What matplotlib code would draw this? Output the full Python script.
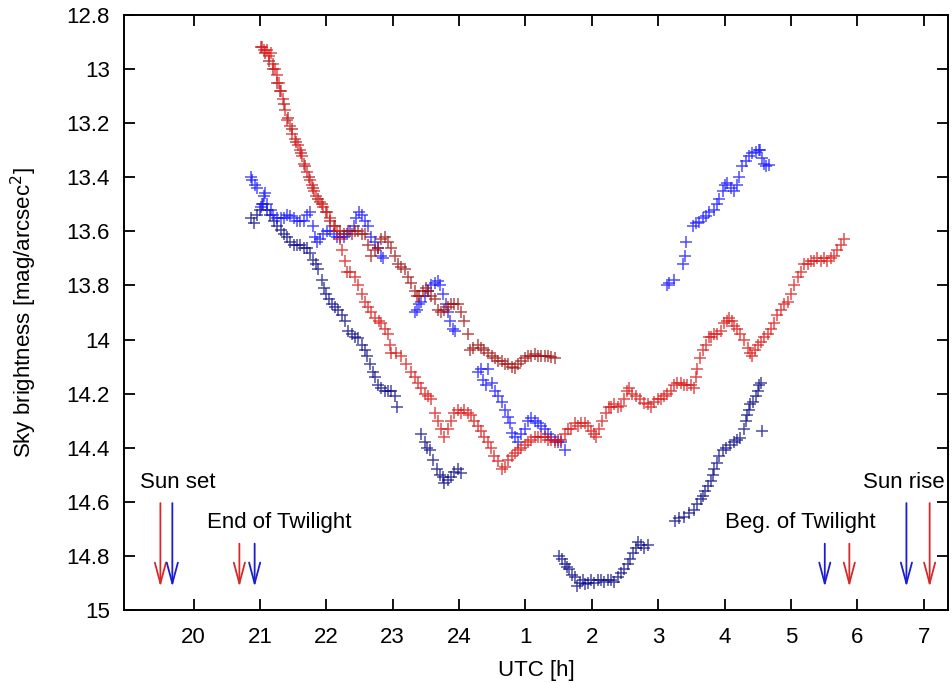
import numpy as np
import matplotlib
matplotlib.use("Agg")
import matplotlib.pyplot as plt

# (UTC hour, sky brightness) -- hours after midnight continue as 24+h
red_night = [
    (21.03, 12.92), (21.06, 12.93), (21.10, 12.93), (21.13, 12.95), (21.16, 12.94), (21.19, 12.98),
    (21.23, 13.00), (21.26, 13.02), (21.28, 13.05), (21.31, 13.08), (21.35, 13.11), (21.38, 13.15),
    (21.41, 13.19), (21.45, 13.21), (21.49, 13.24), (21.53, 13.26), (21.57, 13.28), (21.60, 13.30),
    (21.63, 13.32), (21.67, 13.35), (21.71, 13.38), (21.75, 13.41), (21.78, 13.43), (21.81, 13.45),
    (21.85, 13.47), (21.91, 13.49), (21.95, 13.51), (22.01, 13.53), (22.05, 13.55), (22.11, 13.58),
    (22.16, 13.60), (22.21, 13.63), (22.24, 13.67), (22.28, 13.71), (22.31, 13.75), (22.36, 13.75),
    (22.43, 13.77), (22.48, 13.80), (22.53, 13.83), (22.58, 13.86), (22.63, 13.88), (22.68, 13.90),
    (22.74, 13.92), (22.79, 13.93), (22.83, 13.94), (22.88, 13.96), (22.93, 13.98), (22.96, 14.02),
    (22.98, 14.05), (23.05, 14.05), (23.13, 14.06), (23.20, 14.09), (23.28, 14.12), (23.33, 14.14),
    (23.38, 14.16), (23.43, 14.18), (23.48, 14.20), (23.53, 14.21), (23.58, 14.22), (23.63, 14.27),
    (23.68, 14.30), (23.73, 14.33), (23.78, 14.36), (23.83, 14.33), (23.88, 14.30), (23.93, 14.27),
    (23.98, 14.26), (24.03, 14.27), (24.08, 14.26), (24.13, 14.27), (24.18, 14.28), (24.23, 14.30),
    (24.28, 14.32), (24.33, 14.34), (24.38, 14.36), (24.43, 14.38), (24.48, 14.40), (24.53, 14.43),
    (24.58, 14.45), (24.64, 14.48), (24.69, 14.47), (24.74, 14.445), (24.79, 14.43), (24.84, 14.42),
    (24.89, 14.41), (24.94, 14.40), (24.99, 14.39), (25.04, 14.38), (25.09, 14.37), (25.14, 14.36),
    (25.19, 14.36), (25.24, 14.36), (25.29, 14.36), (25.34, 14.37), (25.39, 14.37), (25.44, 14.38),
    (25.49, 14.37), (25.54, 14.37), (25.59, 14.35), (25.64, 14.33), (25.69, 14.33), (25.74, 14.31),
    (25.79, 14.32), (25.84, 14.31), (25.89, 14.31), (25.94, 14.32), (25.99, 14.34), (26.04, 14.35),
    (26.06, 14.36), (26.11, 14.33), (26.16, 14.30), (26.21, 14.27), (26.26, 14.25), (26.29, 14.25),
    (26.34, 14.24), (26.39, 14.25), (26.44, 14.245), (26.49, 14.22), (26.53, 14.19), (26.56, 14.18),
    (26.61, 14.20), (26.67, 14.21), (26.72, 14.22), (26.79, 14.235), (26.84, 14.24), (26.89, 14.25),
    (26.94, 14.23), (26.99, 14.22), (27.04, 14.22), (27.09, 14.21), (27.14, 14.20), (27.19, 14.19),
    (27.24, 14.17), (27.29, 14.16), (27.34, 14.16), (27.39, 14.17), (27.44, 14.17), (27.49, 14.17),
    (27.54, 14.18), (27.57, 14.14), (27.59, 14.11), (27.63, 14.07), (27.67, 14.04), (27.72, 14.02),
    (27.76, 13.99), (27.79, 13.99), (27.84, 13.98), (27.89, 13.98), (27.94, 13.97), (27.99, 13.94),
    (28.04, 13.93), (28.07, 13.92), (28.11, 13.93), (28.14, 13.95), (28.19, 13.96), (28.24, 13.98),
    (28.29, 14.00), (28.35, 14.03), (28.39, 14.05), (28.42, 14.06), (28.46, 14.04), (28.50, 14.02),
    (28.55, 14.01), (28.60, 13.99), (28.65, 13.98), (28.70, 13.96), (28.74, 13.94), (28.79, 13.91),
    (28.85, 13.89), (28.90, 13.87), (28.95, 13.86), (29.00, 13.83), (29.05, 13.80), (29.10, 13.77),
    (29.15, 13.75), (29.19, 13.72), (29.25, 13.72), (29.30, 13.71), (29.35, 13.71), (29.40, 13.70),
    (29.45, 13.71), (29.50, 13.70), (29.55, 13.71), (29.60, 13.70), (29.65, 13.69), (29.70, 13.67),
    (29.75, 13.65), (29.80, 13.63),
]

darkred_night = [
    (21.02, 12.92), (21.08, 12.94), (21.14, 12.97), (21.20, 13.00), (21.25, 13.05), (21.30, 13.08),
    (21.36, 13.13), (21.42, 13.18), (21.48, 13.22), (21.55, 13.27), (21.62, 13.31), (21.68, 13.36),
    (21.74, 13.40), (21.80, 13.44), (21.87, 13.48), (21.93, 13.50), (22.00, 13.53), (22.06, 13.56),
    (22.13, 13.58), (22.20, 13.60), (22.27, 13.61), (22.33, 13.60), (22.38, 13.61), (22.43, 13.60),
    (22.48, 13.60), (22.53, 13.61), (22.58, 13.61), (22.63, 13.65), (22.68, 13.69), (22.73, 13.67),
    (22.78, 13.66), (22.83, 13.63), (22.88, 13.62), (22.93, 13.64), (22.98, 13.66), (23.03, 13.69),
    (23.08, 13.72), (23.13, 13.73), (23.18, 13.74), (23.23, 13.77), (23.28, 13.79), (23.33, 13.82),
    (23.36, 13.84), (23.40, 13.84), (23.45, 13.82), (23.50, 13.81), (23.53, 13.82), (23.58, 13.84),
    (23.63, 13.85), (23.68, 13.89), (23.73, 13.90), (23.78, 13.89), (23.83, 13.88), (23.88, 13.87),
    (23.93, 13.87), (23.98, 13.87), (24.03, 13.90), (24.08, 13.93), (24.13, 13.98), (24.16, 14.04),
    (24.21, 14.03), (24.28, 14.02), (24.33, 14.03), (24.38, 14.04), (24.44, 14.05), (24.49, 14.06),
    (24.54, 14.07), (24.59, 14.08), (24.64, 14.08), (24.69, 14.09), (24.74, 14.09), (24.79, 14.10),
    (24.84, 14.105), (24.89, 14.09), (24.94, 14.08), (24.99, 14.07), (25.04, 14.06), (25.09, 14.06),
    (25.14, 14.055), (25.19, 14.06), (25.24, 14.06), (25.29, 14.06), (25.34, 14.06), (25.39, 14.065),
    (25.44, 14.07),
]

blue_night = [
    (20.86, 13.40), (20.88, 13.41), (20.93, 13.43), (20.96, 13.44), (21.01, 13.51), (21.03, 13.50),
    (21.06, 13.47), (21.08, 13.46), (21.11, 13.50), (21.16, 13.52), (21.20, 13.54), (21.25, 13.55),
    (21.31, 13.55), (21.36, 13.55), (21.41, 13.54), (21.46, 13.545), (21.51, 13.55), (21.56, 13.56),
    (21.61, 13.56), (21.66, 13.56), (21.71, 13.54), (21.76, 13.53), (21.80, 13.58), (21.83, 13.62),
    (21.86, 13.64), (21.90, 13.63), (21.95, 13.61), (22.01, 13.60), (22.06, 13.60), (22.11, 13.61),
    (22.16, 13.62), (22.21, 13.62), (22.26, 13.62), (22.31, 13.61), (22.36, 13.60), (22.41, 13.58),
    (22.45, 13.55), (22.49, 13.53), (22.53, 13.54), (22.58, 13.56), (22.63, 13.58), (22.68, 13.62),
    (22.73, 13.64), (22.78, 13.66), (22.83, 13.69), (22.86, 13.70),
    (23.33, 13.90), (23.36, 13.89), (23.40, 13.87), (23.43, 13.86), (23.48, 13.84), (23.53, 13.82),
    (23.58, 13.80), (23.63, 13.79), (23.68, 13.785), (23.72, 13.80), (23.76, 13.83), (23.80, 13.87),
    (23.83, 13.90), (23.87, 13.93), (23.91, 13.96), (23.94, 13.97),
    (24.28, 14.12), (24.33, 14.11), (24.36, 14.15), (24.40, 14.17), (24.44, 14.11), (24.49, 14.16),
    (24.54, 14.19), (24.59, 14.21), (24.64, 14.23), (24.69, 14.26), (24.74, 14.285), (24.77, 14.31),
    (24.79, 14.345), (24.84, 14.36), (24.89, 14.38), (24.94, 14.35), (24.99, 14.33), (25.04, 14.30),
    (25.09, 14.29), (25.14, 14.30), (25.19, 14.31), (25.24, 14.32), (25.29, 14.33), (25.34, 14.35),
    (25.39, 14.36), (25.44, 14.37), (25.49, 14.38), (25.54, 14.38), (25.59, 14.41),
    (27.14, 13.80), (27.16, 13.79), (27.24, 13.78), (27.37, 13.72), (27.41, 13.69), (27.42, 13.64),
    (27.52, 13.58), (27.57, 13.57), (27.62, 13.565), (27.67, 13.55), (27.72, 13.545), (27.77, 13.53),
    (27.84, 13.52), (27.89, 13.50), (27.92, 13.48), (27.97, 13.45), (28.00, 13.43), (28.04, 13.42),
    (28.09, 13.44), (28.14, 13.45), (28.18, 13.43), (28.22, 13.40), (28.27, 13.36), (28.32, 13.34),
    (28.37, 13.32), (28.42, 13.31), (28.47, 13.305), (28.52, 13.30), (28.54, 13.30), (28.57, 13.33),
    (28.59, 13.35), (28.63, 13.36), (28.67, 13.355),
]

darkblue_night = [
    (20.86, 13.55), (20.91, 13.57), (20.95, 13.54), (21.00, 13.52), (21.04, 13.50), (21.10, 13.52),
    (21.15, 13.54), (21.21, 13.56), (21.26, 13.58), (21.31, 13.595), (21.36, 13.61), (21.41, 13.62),
    (21.46, 13.64), (21.51, 13.65), (21.56, 13.65), (21.61, 13.65), (21.66, 13.66), (21.71, 13.66),
    (21.76, 13.68), (21.80, 13.705), (21.84, 13.72), (21.88, 13.74), (21.93, 13.78), (21.97, 13.81),
    (22.00, 13.83), (22.04, 13.85), (22.08, 13.87), (22.13, 13.88), (22.18, 13.89), (22.23, 13.91),
    (22.28, 13.93), (22.33, 13.97), (22.38, 13.98), (22.43, 13.99), (22.48, 13.995), (22.53, 14.02),
    (22.58, 14.04), (22.62, 14.06), (22.66, 14.09), (22.70, 14.12), (22.73, 14.14), (22.78, 14.17),
    (22.83, 14.18), (22.88, 14.19), (22.93, 14.19), (22.98, 14.19), (23.03, 14.21), (23.06, 14.25),
    (23.43, 14.35), (23.48, 14.38), (23.52, 14.40), (23.56, 14.41), (23.61, 14.445), (23.66, 14.48),
    (23.71, 14.50), (23.76, 14.51), (23.78, 14.53), (23.83, 14.52), (23.88, 14.51), (23.93, 14.49),
    (23.98, 14.48), (24.03, 14.495),
    (25.51, 14.80), (25.55, 14.81), (25.59, 14.83), (25.63, 14.84), (25.66, 14.85), (25.70, 14.87),
    (25.74, 14.88), (25.77, 14.91), (25.82, 14.90), (25.86, 14.89), (25.89, 14.905), (25.94, 14.90),
    (25.99, 14.89), (26.04, 14.90), (26.09, 14.89), (26.14, 14.89), (26.19, 14.895), (26.24, 14.89),
    (26.29, 14.89), (26.34, 14.895), (26.39, 14.88), (26.44, 14.865), (26.49, 14.85), (26.54, 14.83),
    (26.58, 14.81), (26.62, 14.79), (26.66, 14.77), (26.69, 14.75), (26.74, 14.76), (26.79, 14.77),
    (26.84, 14.76),
    (27.26, 14.67), (27.32, 14.66), (27.39, 14.655), (27.46, 14.64), (27.54, 14.63), (27.59, 14.61),
    (27.64, 14.59), (27.68, 14.58), (27.71, 14.56), (27.75, 14.54), (27.79, 14.525), (27.82, 14.50),
    (27.84, 14.48), (27.88, 14.455), (27.92, 14.43), (27.97, 14.41), (28.02, 14.40), (28.08, 14.39),
    (28.14, 14.38), (28.19, 14.37), (28.24, 14.365), (28.29, 14.33), (28.32, 14.30), (28.34, 14.28),
    (28.37, 14.26), (28.39, 14.24), (28.43, 14.23), (28.47, 14.21), (28.50, 14.19), (28.52, 14.17),
    (28.55, 14.16), (28.57, 14.34),
]

# event markers: (hour, colour key)
sunset = [(19.50, "red"), (19.68, "blue")]
end_twilight = [(20.69, "red"), (20.92, "blue")]
beg_twilight = [(29.51, "blue"), (29.88, "red")]
sunrise = [(30.74, "blue"), (31.09, "red")]

tick_hours = list(range(20, 32))
tick_labels = ["20", "21", "22", "23", "24", "1", "2", "3", "4", "5", "6", "7"]
y_ticks = [12.8, 13, 13.2, 13.4, 13.6, 13.8, 14, 14.2, 14.4, 14.6, 14.8, 15]

colors = {"red": "#dc1414", "darkred": "#a00f0f", "blue": "#1414ff", "darkblue": "#0c0c88"}
arrow_colors = {"red": "#d42a2a", "blue": "#1c1cd0"}

plt.rcParams["font.family"] = ["Liberation Sans", "DejaVu Sans"]
FS = 16

fig = plt.figure(figsize=(9.53, 6.83), dpi=100)
ax = fig.add_axes([0.130, 0.107, 0.865, 0.871])

for series, key in [(darkblue_night, "darkblue"), (blue_night, "blue"),
                    (darkred_night, "darkred"), (red_night, "red")]:
    t, m = np.array(series).T
    ax.plot(t, m, linestyle="none", marker="+", markersize=8, markeredgewidth=1.1,
            color=colors[key], alpha=0.75)


def draw_arrows(events, top, bottom=14.915):
    for h, key in events:
        ax.annotate("", xy=(h, bottom), xytext=(h, top),
                    arrowprops=dict(arrowstyle="->,head_length=1.5,head_width=0.4",
                                    color=arrow_colors[key], lw=1.3,
                                    shrinkA=0, shrinkB=0, mutation_scale=10))


draw_arrows(sunset, 14.605)
draw_arrows(end_twilight, 14.755)
draw_arrows(beg_twilight, 14.755)
draw_arrows(sunrise, 14.605)

ax.text(19.19, 14.527, "Sun set", fontsize=FS, ha="left", va="center")
ax.text(20.20, 14.678, "End of Twilight", fontsize=FS, ha="left", va="center")
ax.text(30.27, 14.678, "Beg. of Twilight", fontsize=FS, ha="right", va="center")
ax.text(31.31, 14.527, "Sun rise", fontsize=FS, ha="right", va="center")

ax.set_xlim(18.95, 31.37)
ax.set_ylim(15, 12.8)
ax.set_xticks(tick_hours)
ax.set_xticklabels(tick_labels)
ax.set_yticks(y_ticks)
ax.set_yticklabels([f"{v:g}" for v in y_ticks])
ax.tick_params(direction="in", length=8, width=1.3, top=True, right=True,
               labelsize=FS)
ax.tick_params(axis="x", pad=12)
ax.tick_params(axis="y", pad=10)
for s in ax.spines.values():
    s.set_linewidth(1.4)

ax.set_xlabel("UTC [h]", fontsize=FS, labelpad=9)
ax.set_ylabel("Sky brightness [mag/arcsec$^2$]", fontsize=FS, labelpad=20)

fig.savefig("out.png", dpi=100)
